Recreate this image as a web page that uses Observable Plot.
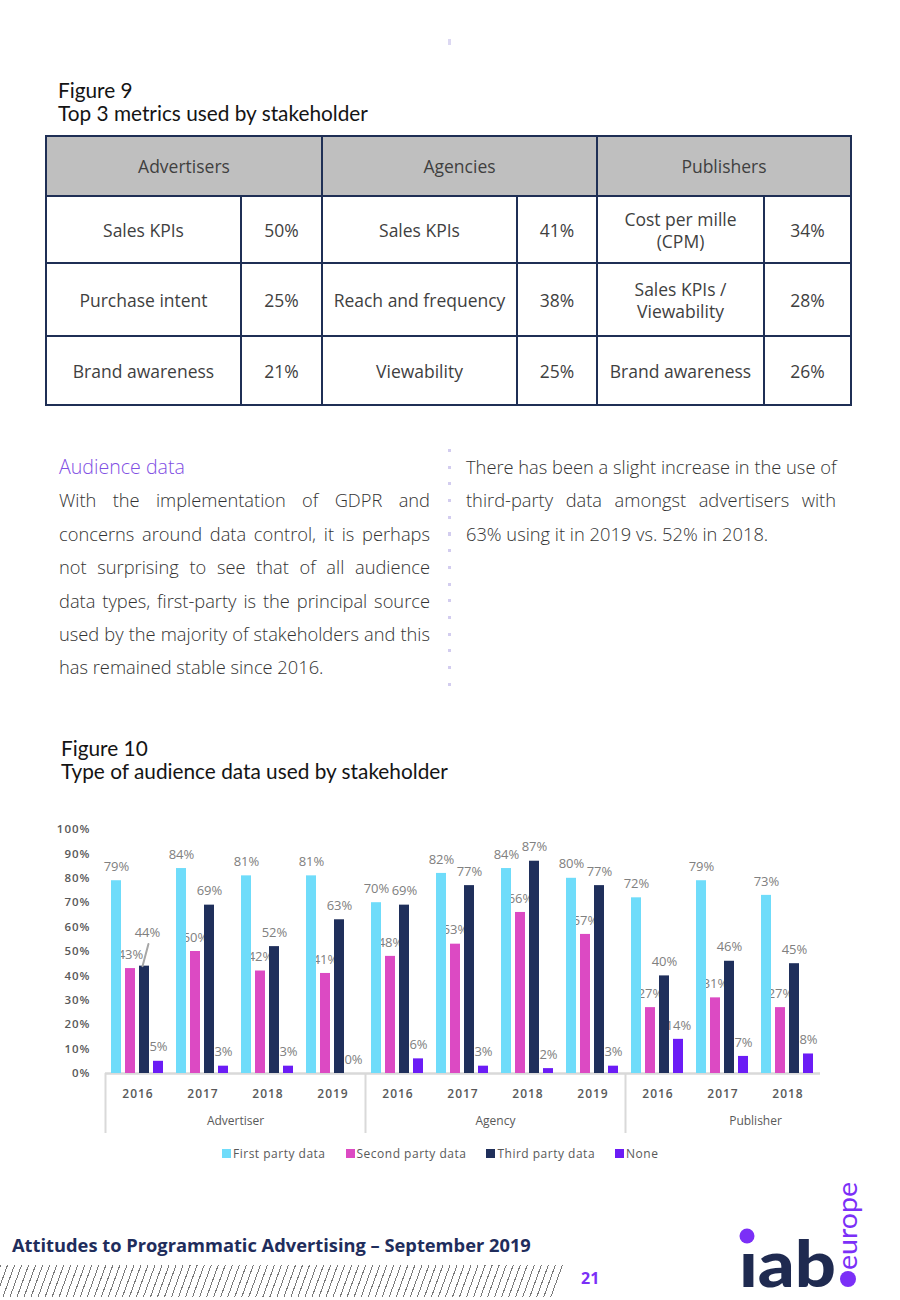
<!DOCTYPE html>
<html>
<head>
<meta charset="utf-8">
<script src="https://cdn.jsdelivr.net/npm/d3@7"></script>
<script src="https://cdn.jsdelivr.net/npm/@observablehq/plot@0.6"></script>
<style>
  body { margin: 0; background: #fff; }
  #page { position: relative; width: 900px; height: 1300px; overflow: hidden; font-family: "Open Sans", sans-serif; background: #fff; }
  .abs { position: absolute; }
  .ftitle { font-family: Lato, "Noto Sans", sans-serif; font-size: 20.8px; line-height: 23px; color: #141414; white-space: nowrap; }
  table.metrics { border-collapse: collapse; table-layout: fixed; width: 805px; }
  table.metrics td { border: 2.5px solid #1f2f55; text-align: center; vertical-align: middle; font-size: 17.5px; line-height: 22px; color: #3f3f3f; padding: 0 2px; white-space: nowrap; }
  table.metrics tr.head td { background: #bfbfbf; }
  .col { font-size: 18.3px; line-height: 33.4px; color: #333; font-weight: 300; }
  .col .l { white-space: nowrap; text-align: justify; text-align-last: justify; }
  .col .last { white-space: nowrap; text-align: left; }
  .col .sub { color: #7f4fe3; font-weight: 300; font-size: 19.6px; }
  #legend .lg-swatch { margin-right: 20px !important; }
  #legend .lg-swatch > svg { margin-right: 2px !important; }
  #legend .lg-swatches { font-family: "Open Sans", sans-serif !important; font-size: 12px !important; color: #595959 !important; letter-spacing: 0.5px; }
  #chart [aria-label="y-axis tick label"] text { letter-spacing: 1px; }
  #chart [aria-label="fx-axis tick label"] text { letter-spacing: 1px; }
  #chart [aria-label="group label"] text { letter-spacing: 1.1px; }
</style>
</head>
<body>
<div id="page">
  <div class="abs" style="left:448px;top:39px;width:3px;height:6px;background:#dcd8f2;"></div>

  <div class="abs ftitle" style="left:58px;top:78px;">Figure 9<br>Top 3 metrics used by stakeholder</div>
  <div class="abs" id="tablebox" style="left:45px;top:135px;"></div>

  <div class="abs" style="left:448px;top:449px;width:3px;height:245px;background:repeating-linear-gradient(to bottom,#d3cdef 0 3px,transparent 3px 16.7px);"></div>

  <div class="abs col" id="leftcol" style="left:59px;top:450px;width:371px;"></div>
  <div class="abs col" id="rightcol" style="left:466px;top:450px;width:370px;"></div>

  <div class="abs ftitle" style="left:61px;top:736px;">Figure 10<br>Type of audience data used by stakeholder</div>

  <div class="abs" id="chart" style="left:0;top:810px;"></div>
  <div class="abs" id="legend" style="left:222px;top:1137px;"></div>

  <div class="abs" style="left:12px;top:1233px;font-size:18.3px;line-height:24px;font-weight:700;color:#1f2d5c;white-space:nowrap;">Attitudes to Programmatic Advertising – September 2019</div>
  <div class="abs" style="left:0;top:1265px;width:566px;height:32px;background:repeating-linear-gradient(110deg,#7a7a7a 0 1px,transparent 1px 6.6px);clip-path:polygon(0 0,566px 0,554px 100%,0 100%);"></div>
  <div class="abs" style="left:581px;top:1267px;font-size:16px;line-height:22px;font-weight:700;color:#7b2ff7;">21</div>

  <svg class="abs" style="left:0;top:0;" width="900" height="1300" id="logo">
    <text x="739" y="1287" textLength="97" lengthAdjust="spacingAndGlyphs" font-family="Lato, 'Noto Sans', sans-serif" font-weight="900" font-size="64" fill="#1f2a50">ıab</text>
    <circle cx="747" cy="1236" r="7.5" fill="#7b2ff7"></circle>
    <text transform="translate(857,1270) rotate(-90)" textLength="88" lengthAdjust="spacingAndGlyphs" font-family="Lato, 'Noto Sans', sans-serif" font-weight="400" font-size="27" fill="#7b2ff7">europe</text>
    <circle cx="848" cy="1279" r="8" fill="#7b2ff7"></circle>
  </svg>
</div>

<script>
// ---------- Figure 9 table data ----------
const stakeholders = ["Advertisers", "Agencies", "Publishers"];
const advertiserMetrics = ["Sales KPIs", "Purchase intent", "Brand awareness"];
const advertiserShares = ["50%", "25%", "21%"];
const agencyMetrics = ["Sales KPIs", "Reach and frequency", "Viewability"];
const agencyShares = ["41%", "38%", "25%"];
const publisherMetrics = ["Cost per mille<br>(CPM)", "Sales KPIs /<br>Viewability", "Brand awareness"];
const publisherShares = ["34%", "28%", "26%"];

// ---------- Text ----------
const leftHeading = "Audience data";
const leftLines = [
  "With the implementation of GDPR and",
  "concerns around data control, it is perhaps",
  "not surprising to see that of all audience",
  "data types, first-party is the principal source",
  "used by the majority of stakeholders and this",
  "has remained stable since 2016."
];
const rightLines = [
  "There has been a slight increase in the use of",
  "third-party data amongst advertisers with",
  "63% using it in 2019 vs. 52% in 2018."
];

// ---------- Figure 10 chart data ----------
const groups = ["Advertiser","Advertiser","Advertiser","Advertiser","Agency","Agency","Agency","Agency","Publisher","Publisher","Publisher"];
const years  = ["2016","2017","2018","2019","2016","2017","2018","2019","2016","2017","2018"];
const seriesNames = ["First party data", "Second party data", "Third party data", "None"];
const firstParty  = [79, 84, 81, 81, 70, 82, 84, 80, 72, 79, 73];
const secondParty = [43, 50, 42, 41, 48, 53, 66, 57, 27, 31, 27];
const thirdParty  = [44, 69, 52, 63, 69, 77, 87, 77, 40, 46, 45];
const noneData    = [5, 3, 3, 0, 6, 3, 2, 3, 14, 7, 8];
const seriesColors = ["#6fdcfa", "#dc4ac3", "#1f2f5b", "#6b1cf5"];
const yTicks = [0, 10, 20, 30, 40, 50, 60, 70, 80, 90, 100];
const groupNames = ["Advertiser", "Agency", "Publisher"];
const leaderLabel = {group: "Advertiser", year: "2016", series: "Third party data"};

// build table
const cols = [[advertiserMetrics, advertiserShares], [agencyMetrics, agencyShares], [publisherMetrics, publisherShares]];
const colWidths = [195, 81, 195, 80, 167, 87];
const rowHeights = [60, 67, 73, 69];
let html = '<table class="metrics"><colgroup>' + colWidths.map(w => `<col style="width:${w}px">`).join("") + '</colgroup>';
html += `<tr class="head" style="height:${rowHeights[0]}px">` + stakeholders.map(s => `<td colspan="2">${s}</td>`).join("") + "</tr>";
for (let r = 0; r < 3; r++) {
  html += `<tr style="height:${rowHeights[r + 1]}px">` + cols.map(([m, s]) => `<td>${m[r]}</td><td>${s[r]}</td>`).join("") + "</tr>";
}
html += "</table>";
document.getElementById("tablebox").innerHTML = html;

// text columns
document.getElementById("leftcol").innerHTML =
  `<div class="last sub">${leftHeading}</div>` +
  leftLines.map((t, i) => `<div class="${i === leftLines.length - 1 ? "last" : "l"}">${t}</div>`).join("");
document.getElementById("rightcol").innerHTML =
  rightLines.map((t, i) => `<div class="${i === rightLines.length - 1 ? "last" : "l"}">${t}</div>`).join("");

// chart rows
const keys = groups.map((g, i) => g + "|" + years[i]);
const seriesValues = [firstParty, secondParty, thirdParty, noneData];
const rows = [];
keys.forEach((k, i) => {
  seriesNames.forEach((s, j) => {
    rows.push({
      key: k, series: s, value: seriesValues[j][i],
      moved: groups[i] === leaderLabel.group && years[i] === leaderLabel.year && s === leaderLabel.series
    });
  });
});
const groupStarts = groupNames.map(g => keys[groups.indexOf(g)]);
const groupLabels = groupNames.map(g => ({key: g + "|2017", label: g}));

const W = 900, H = 330, ML = 105, MR = 80, MT = 19, MB = 67;
const step = (W - ML - MR) / keys.length;
const lineShape = {draw(context, l) { context.moveTo(0, 0); context.lineTo(0, -l); }};

const chart = Plot.plot({
  width: W, height: H,
  marginLeft: ML, marginRight: MR, marginTop: MT, marginBottom: MB,
  style: {fontFamily: '"Open Sans", sans-serif', background: "transparent", overflow: "visible"},
  fx: {domain: keys, padding: 0, label: null},
  x: {domain: seriesNames, paddingInner: 0.28, paddingOuter: 0.45, axis: null},
  y: {domain: [0, 100]},
  color: {domain: seriesNames, range: seriesColors},
  marks: [
    Plot.axisY({ticks: yTicks, tickFormat: d => d + "%", tickSize: 0, tickPadding: 15, fontSize: 11.5, fontWeight: 600, fill: "#595959", label: null}),
    Plot.ruleY([0], {stroke: "#d9d9d9", strokeWidth: 2.5}),
    Plot.axisFx({anchor: "bottom", tickSize: 0, tickPadding: 16, tickFormat: k => k.split("|")[1], fontSize: 12, fontWeight: 600, fill: "#595959", label: null}),
    Plot.axisFx({anchor: "bottom", ticks: groupStarts, tickSize: 60, tickFormat: () => "", dx: -step / 2, stroke: "#d9d9d9", strokeWidth: 2, label: null}),
    Plot.text(groupLabels, {fx: "key", text: "label", frameAnchor: "bottom", lineAnchor: "middle", dy: 48, dx: step / 2, fill: "#595959", fontSize: 12, ariaLabel: "group label"}),
    Plot.text(rows.filter(d => !d.moved), {fx: "key", x: "series", y: "value", text: d => d.value + "%", dy: -14, fill: "#808080", fontSize: 13}),
    Plot.text(rows.filter(d => d.moved), {fx: "key", x: "series", y: "value", text: d => d.value + "%", dy: -33, dx: 3, fill: "#808080", fontSize: 13}),
    Plot.barY(rows, {fx: "key", x: "series", y: "value", fill: "series"}),
    Plot.vector(rows.filter(d => d.moved), {fx: "key", x: "series", y: "value", length: 23, rotate: 15, anchor: "start", shape: lineShape, stroke: "#a6a6a6", strokeWidth: 2, dx: -2})
  ]
});
document.getElementById("chart").appendChild(chart);

const legend = Plot.legend({color: {domain: seriesNames, range: seriesColors}, legend: "swatches", swatchSize: 9, className: "lg"});
document.getElementById("legend").appendChild(legend);
</script>
</body>
</html>
